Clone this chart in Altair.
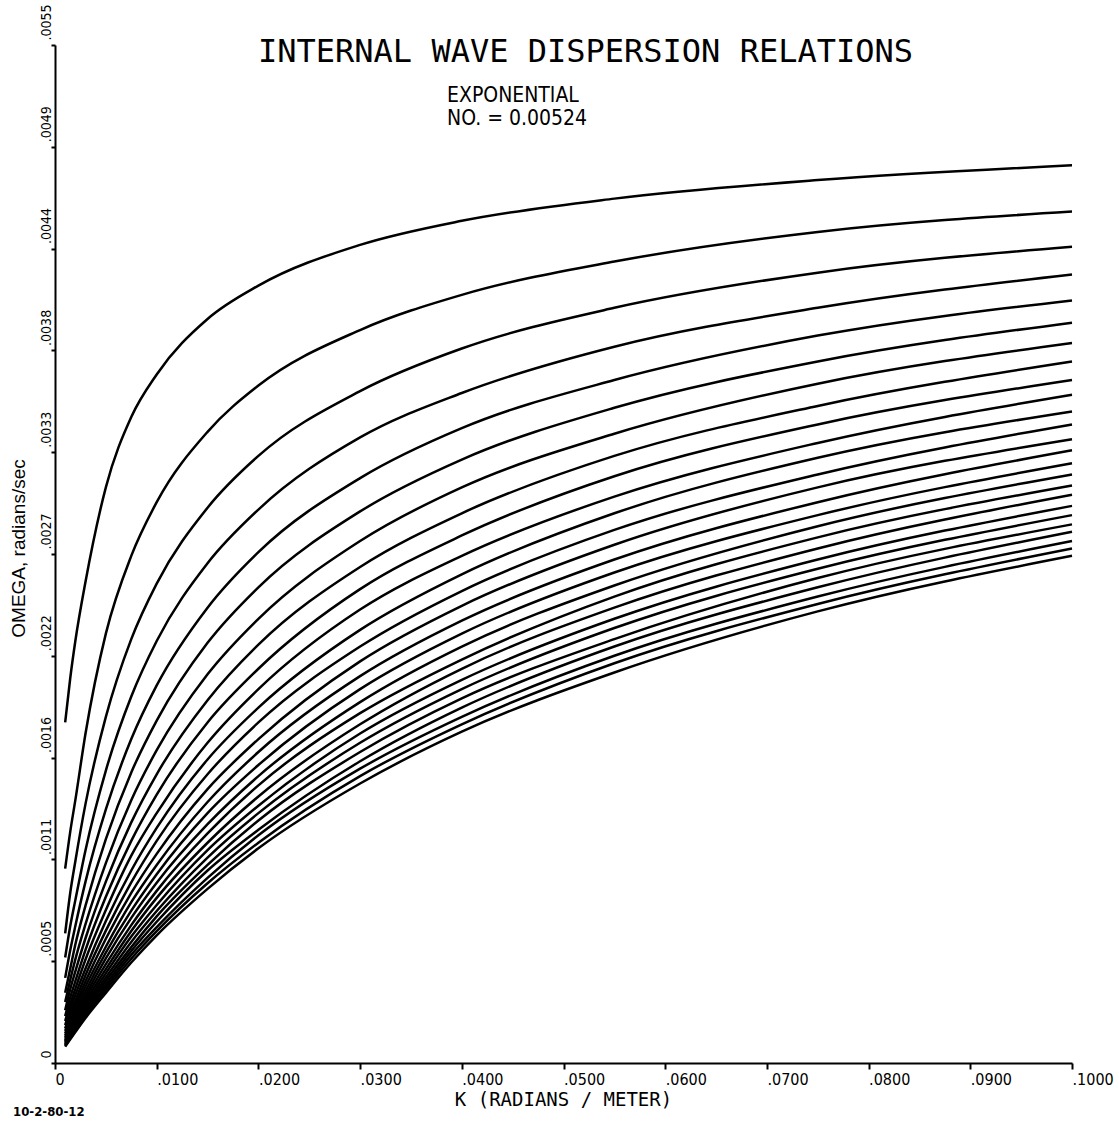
import altair as alt
import pandas as pd

# wavenumber grid (radians / meter) at which each curve was read
K = [0.001, 0.0015, 0.002, 0.003, 0.005, 0.0075, 0.01, 0.015, 0.02, 0.03, 0.04, 0.055, 0.075, 0.1]

# omega (radians/sec) for each mode
MODE_01 = [0.00184, 0.00208, 0.00228, 0.00260, 0.00311, 0.00349, 0.00372, 0.00402, 0.00420, 0.00442, 0.00455, 0.00467, 0.00477, 0.00485]
MODE_02 = [0.00105, 0.00125, 0.00142, 0.00178, 0.00232, 0.00274, 0.00303, 0.00341, 0.00366, 0.00396, 0.00415, 0.00433, 0.00449, 0.00460]
MODE_03 = [0.00070, 0.00092, 0.00109, 0.00140, 0.00187, 0.00229, 0.00259, 0.00300, 0.00328, 0.00363, 0.00386, 0.00408, 0.00427, 0.00441]
MODE_04 = [0.00057, 0.00074, 0.00088, 0.00115, 0.00158, 0.00198, 0.00228, 0.00270, 0.00299, 0.00338, 0.00362, 0.00387, 0.00408, 0.00426]
MODE_05 = [0.00046, 0.00061, 0.00074, 0.00098, 0.00137, 0.00175, 0.00204, 0.00246, 0.00276, 0.00316, 0.00343, 0.00369, 0.00393, 0.00412]
MODE_06 = [0.00038, 0.00051, 0.00064, 0.00085, 0.00121, 0.00157, 0.00185, 0.00227, 0.00257, 0.00298, 0.00326, 0.00354, 0.00379, 0.00400]
MODE_07 = [0.00033, 0.00045, 0.00056, 0.00075, 0.00108, 0.00142, 0.00169, 0.00210, 0.00240, 0.00282, 0.00311, 0.00340, 0.00367, 0.00389]
MODE_08 = [0.000285, 0.00040, 0.000495, 0.000674, 0.00098, 0.00130, 0.00156, 0.00196, 0.00226, 0.00268, 0.00297, 0.00328, 0.00355, 0.00379]
MODE_09 = [0.000253, 0.000355, 0.000442, 0.000611, 0.000898, 0.00120, 0.00145, 0.00184, 0.00213, 0.00256, 0.00285, 0.00317, 0.00345, 0.00369]
MODE_10 = [0.000227, 0.000319, 0.000401, 0.000559, 0.000826, 0.00112, 0.00135, 0.00173, 0.00202, 0.00245, 0.00274, 0.00306, 0.00335, 0.00361]
MODE_11 = [0.000205, 0.000292, 0.000368, 0.000511, 0.000767, 0.00104, 0.00127, 0.00164, 0.00192, 0.00234, 0.00264, 0.00297, 0.00327, 0.00352]
MODE_12 = [0.000187, 0.000266, 0.000337, 0.000474, 0.000715, 0.000976, 0.00120, 0.00156, 0.00184, 0.00225, 0.00255, 0.00288, 0.00318, 0.00345]
MODE_13 = [0.000173, 0.000247, 0.000313, 0.000441, 0.000671, 0.000919, 0.00113, 0.00148, 0.00175, 0.00217, 0.00247, 0.00280, 0.00311, 0.00337]
MODE_14 = [0.000160, 0.000228, 0.000292, 0.000413, 0.000628, 0.000869, 0.00107, 0.00141, 0.00168, 0.00209, 0.00239, 0.00272, 0.00303, 0.00331]
MODE_15 = [0.000149, 0.000214, 0.000274, 0.000388, 0.000596, 0.000823, 0.00102, 0.00135, 0.00161, 0.00202, 0.00232, 0.00265, 0.00296, 0.00324]
MODE_16 = [0.000139, 0.000201, 0.000258, 0.000366, 0.000565, 0.000784, 0.000974, 0.00129, 0.00155, 0.00195, 0.00225, 0.00258, 0.00290, 0.00318]
MODE_17 = [0.000131, 0.000190, 0.000244, 0.000347, 0.000534, 0.000745, 0.000930, 0.00124, 0.00150, 0.00189, 0.00218, 0.00252, 0.00284, 0.00312]
MODE_18 = [0.000123, 0.000178, 0.000229, 0.000329, 0.000507, 0.000713, 0.000892, 0.00119, 0.00144, 0.00183, 0.00213, 0.00246, 0.00278, 0.00307]
MODE_19 = [0.000117, 0.000169, 0.000217, 0.000313, 0.000484, 0.000683, 0.000854, 0.00115, 0.00139, 0.00178, 0.00207, 0.00240, 0.00272, 0.00301]
MODE_20 = [0.000111, 0.000161, 0.000207, 0.000299, 0.000462, 0.000654, 0.000821, 0.00111, 0.00135, 0.00173, 0.00202, 0.00235, 0.00267, 0.00296]
MODE_21 = [0.000105, 0.000152, 0.000198, 0.000286, 0.000443, 0.000626, 0.000792, 0.00107, 0.00131, 0.00168, 0.00197, 0.00229, 0.00262, 0.00291]
MODE_22 = [0.000100, 0.000145, 0.000189, 0.000274, 0.000425, 0.000605, 0.000763, 0.00104, 0.00126, 0.00163, 0.00192, 0.00225, 0.00257, 0.00287]
MODE_23 = [0.0000958, 0.000139, 0.000181, 0.000262, 0.000409, 0.000584, 0.000734, 0.00100, 0.00123, 0.00159, 0.00187, 0.00220, 0.00252, 0.00282]
MODE_24 = [0.0000919, 0.000133, 0.000174, 0.000252, 0.000394, 0.000563, 0.000712, 0.000971, 0.00119, 0.00155, 0.00183, 0.00216, 0.00248, 0.00278]
MODE_25 = [0.0000883, 0.000128, 0.000167, 0.000243, 0.000379, 0.000543, 0.000690, 0.000941, 0.00116, 0.00151, 0.00179, 0.00211, 0.00244, 0.00274]

MODES = [MODE_01, MODE_02, MODE_03, MODE_04, MODE_05, MODE_06, MODE_07, MODE_08, MODE_09,
         MODE_10, MODE_11, MODE_12, MODE_13, MODE_14, MODE_15, MODE_16, MODE_17, MODE_18,
         MODE_19, MODE_20, MODE_21, MODE_22, MODE_23, MODE_24, MODE_25]

X_TICKS = [0, 0.01, 0.02, 0.03, 0.04, 0.05, 0.06, 0.07, 0.08, 0.09, 0.1]
X_TICK_LABELS = ["0", ".0100", ".0200", ".0300", ".0400", ".0500", ".0600", ".0700", ".0800", ".0900", ".1000"]
Y_TICKS = [0, 0.00055, 0.0011, 0.00165, 0.0022, 0.00275, 0.0033, 0.00385, 0.0044, 0.00495, 0.0055]
Y_TICK_LABELS = ["0", ".0005", ".0011", ".0016", ".0022", ".0027", ".0033", ".0038", ".0044", ".0049", ".0055"]

TITLE = "INTERNAL WAVE DISPERSION RELATIONS"
SUBTITLE_1 = "EXPONENTIAL"
SUBTITLE_2 = "NO. = 0.00524"
X_TITLE = "K (RADIANS / METER)"
Y_TITLE = "OMEGA, radians/sec"
STAMP = "10-2-80-12"

rows = []
for i, mode in enumerate(MODES, start=1):
    for k, w in zip(K, mode):
        rows.append({"mode": i, "k": k, "omega": w})
df = pd.DataFrame(rows)


def label_expr(values, labels):
    vals = "[" + ",".join(repr(v) for v in values) + "]"
    labs = "[" + ",".join("'" + s + "'" for s in labels) + "]"
    return f"{labs}[indexof({vals}, datum.value)]"


NARROW = "'Liberation Sans Narrow', 'DejaVu Sans Condensed', 'Roboto Condensed', sans-serif"
MONO = "'DejaVu Sans Mono', monospace"

lines = alt.Chart(df).mark_line(color="black", strokeWidth=2.5, interpolate="monotone").encode(
    x=alt.X("k:Q",
            scale=alt.Scale(domain=[0, 0.1], nice=False, zero=False),
            axis=alt.Axis(values=X_TICKS, labelExpr=label_expr(X_TICKS, X_TICK_LABELS),
                          labelAlign="left", labelFont=NARROW, labelFontSize=16,
                          labelPadding=2, tickSize=6, title=X_TITLE, titleFont=MONO,
                          titleFontSize=19, titleFontWeight="normal", titleX=508, titleY=42,
                          titleAlign="center", titleBaseline="alphabetic",
                          labelOverlap=False, labelFlush=False)),
    y=alt.Y("omega:Q",
            scale=alt.Scale(domain=[0, 0.0055], nice=False, zero=False),
            axis=alt.Axis(values=Y_TICKS, labelExpr=label_expr(Y_TICKS, Y_TICK_LABELS),
                          labelAngle=270, labelAlign="left", labelBaseline="alphabetic",
                          labelFont=NARROW, labelFontSize=14, labelPadding=1, tickSize=4,
                          labelOffset=-5, title=Y_TITLE, titleFont="'Liberation Sans', sans-serif",
                          titleFontSize=19, titleFontWeight="normal", titleAngle=270,
                          titleX=-31, titleY=503, titleAlign="center",
                          titleBaseline="alphabetic", labelOverlap=False, labelFlush=False)),
    detail="mode:N",
)

title_txt = alt.Chart(pd.DataFrame({"t": [TITLE]})).mark_text(
    font=MONO, fontSize=32, align="left", baseline="alphabetic", color="black"
).encode(text="t:N", x=alt.value(203), y=alt.value(17))

sub1 = alt.Chart(pd.DataFrame({"t": [SUBTITLE_1]})).mark_text(
    font=NARROW, fontSize=21, align="left", baseline="alphabetic", color="black"
).encode(text="t:N", x=alt.value(392), y=alt.value(57))

sub2 = alt.Chart(pd.DataFrame({"t": [SUBTITLE_2]})).mark_text(
    font=NARROW, fontSize=21, align="left", baseline="alphabetic", color="black"
).encode(text="t:N", x=alt.value(392), y=alt.value(80))

stamp = alt.Chart(pd.DataFrame({"t": [STAMP]})).mark_text(
    font=NARROW, fontSize=13, fontWeight="bold", align="left", baseline="alphabetic", color="black"
).encode(text="t:N", x=alt.value(-42), y=alt.value(1071))

chart = alt.layer(lines, title_txt, sub1, sub2, stamp).properties(
    width=1017, height=1018,
    autosize=alt.AutoSizeParams(type="none"),
    padding={"left": 55, "top": 45, "right": 47, "bottom": 64},
    background="white",
).configure_view(stroke=None).configure_axis(
    grid=False, domainColor="black", domainWidth=2, tickColor="black", tickWidth=2,
    labelColor="black", titleColor="black",
)

chart.save("out.html", embed_options={"renderer": "svg", "actions": False})
